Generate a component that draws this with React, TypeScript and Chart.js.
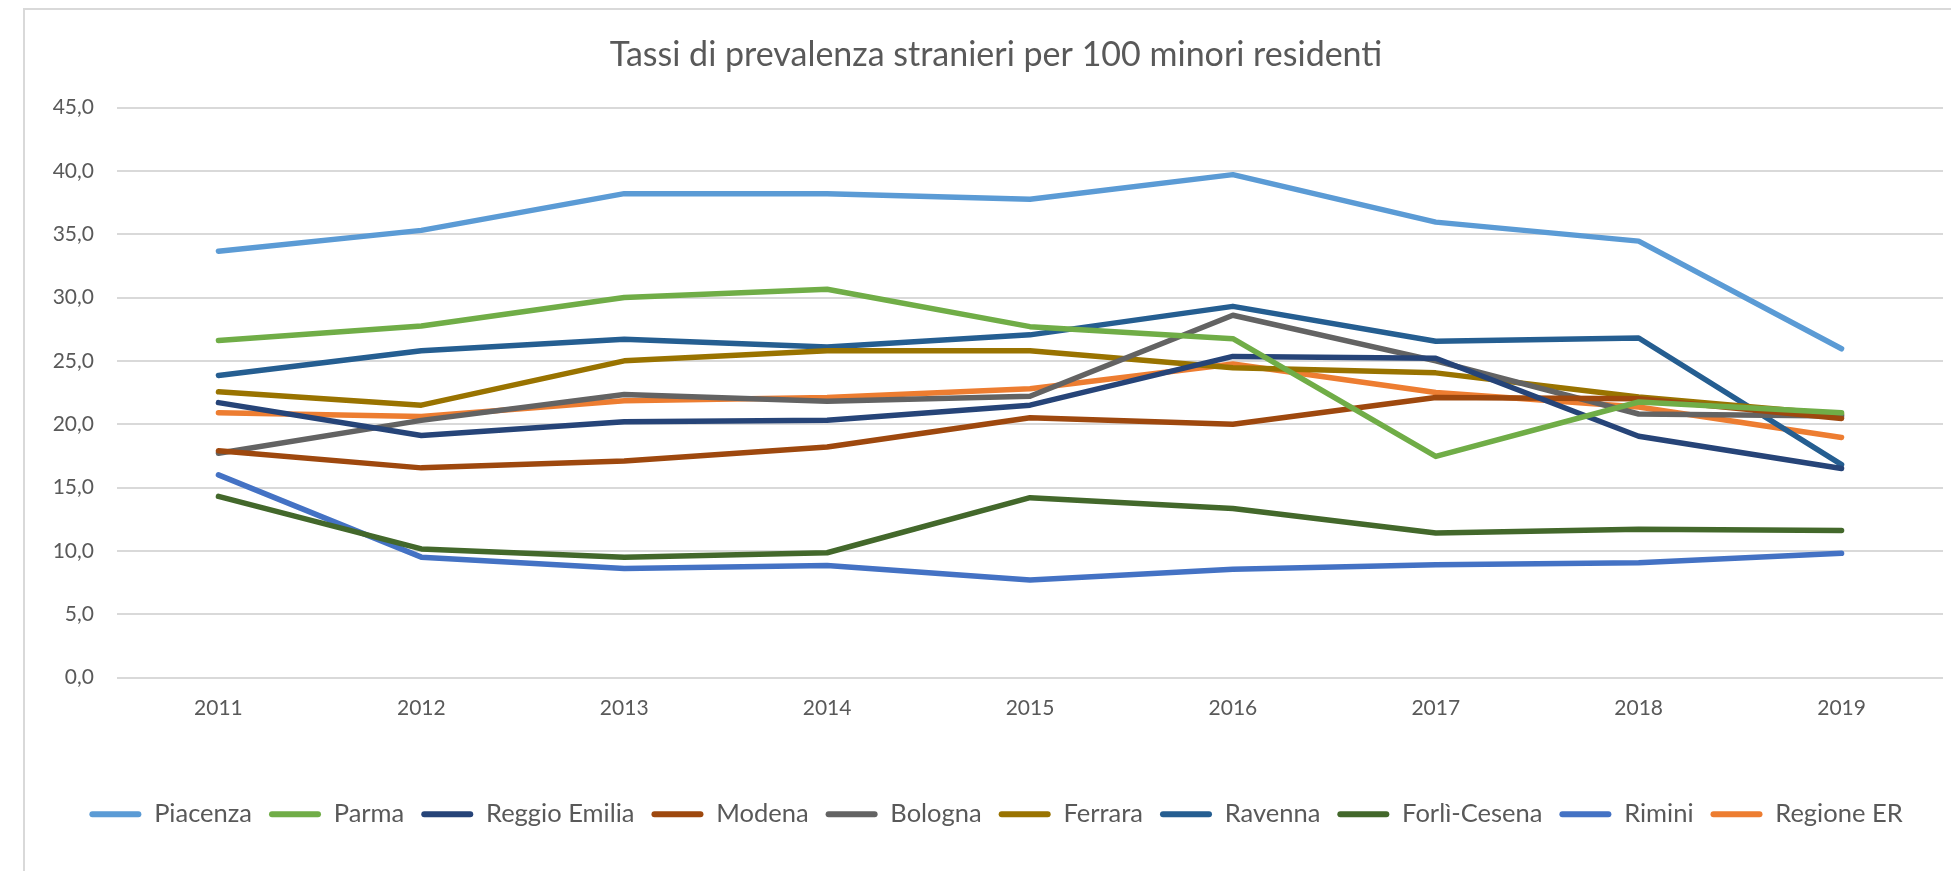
import React, { useEffect, useRef } from "react";
import { Chart, registerables } from "chart.js";

Chart.register(...registerables);

const years = ["2011", "2012", "2013", "2014", "2015", "2016", "2017", "2018", "2019"];
const yTicks = [0, 5, 10, 15, 20, 25, 30, 35, 40, 45];

const piacenza = [33.65, 35.3, 38.2, 38.2, 37.75, 39.7, 35.95, 34.45, 25.95];
const parma = [26.6, 27.75, 30.0, 30.65, 27.7, 26.75, 17.45, 21.75, 20.9];
const reggioEmilia = [21.7, 19.1, 20.2, 20.3, 21.5, 25.35, 25.2, 19.05, 16.5];
const modena = [17.9, 16.55, 17.1, 18.2, 20.5, 20.0, 22.1, 22.0, 20.45];
const bologna = [17.7, 20.3, 22.35, 21.8, 22.2, 28.6, 25.0, 20.8, 20.65];
const ferrara = [22.55, 21.5, 25.0, 25.8, 25.8, 24.45, 24.05, 22.15, 20.75];
const ravenna = [23.85, 25.8, 26.7, 26.1, 27.05, 29.3, 26.55, 26.8, 16.8];
const forliCesena = [14.3, 10.15, 9.5, 9.85, 14.2, 13.35, 11.4, 11.7, 11.6];
const rimini = [16.0, 9.5, 8.6, 8.85, 7.7, 8.55, 8.9, 9.05, 9.8];
const regioneER = [20.9, 20.6, 21.85, 22.1, 22.8, 24.75, 22.5, 21.35, 18.95];

const seriesNames = ["Piacenza", "Parma", "Reggio Emilia", "Modena", "Bologna", "Ferrara", "Ravenna", "Forlì-Cesena", "Rimini", "Regione ER"];
const seriesValues = [piacenza, parma, reggioEmilia, modena, bologna, ferrara, ravenna, forliCesena, rimini, regioneER];
const seriesColors = ["#5B9BD5", "#70AD47", "#264478", "#9E480E", "#636363", "#997300", "#255E91", "#43682B", "#4472C4", "#ED7D31"];

const TEXT = "#595959";
const FONT = "Lato";

export default function App() {
  const ref = useRef<HTMLCanvasElement>(null);

  useEffect(() => {
    document.body.style.overflow = "hidden";
    const chart = new Chart(ref.current as HTMLCanvasElement, {
      type: "line",
      data: {
        labels: years,
        datasets: seriesNames.map((name, i) => ({
          label: name,
          data: seriesValues[i],
          borderColor: seriesColors[i],
          backgroundColor: seriesColors[i],
          borderWidth: 5.5,
          pointRadius: 0,
          tension: 0,
          borderCapStyle: "round",
          borderJoinStyle: "round",
          fill: false,
        })),
      },
      options: {
        animation: false,
        responsive: false,
        devicePixelRatio: 1,
        layout: { padding: { left: 24, right: 8, top: 0, bottom: 34 } },
        plugins: {
          title: {
            display: true,
            text: "Tassi di prevalenza stranieri per 100 minori residenti",
            color: TEXT,
            font: { family: FONT, size: 34, weight: "normal", lineHeight: 1.2 },
            padding: { top: 24.6, bottom: 32.1 },
          },
          legend: {
            position: "bottom",
            labels: {
              boxWidth: 52,
              boxHeight: 6,
              useBorderRadius: true,
              borderRadius: 3,
              padding: 17,
              color: TEXT,
              font: { family: FONT, size: 25.5 },
              generateLabels: (c: any) =>
                c.data.datasets.map((ds: any, i: number) => ({
                  text: ds.label,
                  fillStyle: ds.borderColor,
                  strokeStyle: ds.borderColor,
                  lineWidth: 0,
                  hidden: false,
                  datasetIndex: i,
                  fontColor: TEXT,
                  borderRadius: 3,
                })),
            },
          },
          tooltip: { enabled: false },
        },
        scales: {
          x: {
            offset: true,
            grid: { display: false, drawTicks: false, offset: true },
            border: { display: false },
            ticks: {
              color: TEXT,
              font: { family: FONT, size: 21 },
              padding: 18,
              maxRotation: 0,
              autoSkip: false,
            },
            afterFit: (s: any) => {
              s.height = 107;
            },
          },
          y: {
            min: 0,
            max: 45,
            afterBuildTicks: (s: any) => {
              s.ticks = yTicks.map((v) => ({ value: v }));
            },
            ticks: {
              color: TEXT,
              font: { family: FONT, size: 21 },
              padding: 23,
              callback: (v: any) => Number(v).toFixed(1).replace(".", ","),
            },
            grid: { color: "#D9D9D9", lineWidth: 2, drawTicks: false },
            border: { display: false },
            afterFit: (s: any) => {
              s.width = 68;
            },
          },
        },
      },
    } as any);
    return () => chart.destroy();
  }, []);

  return (
    <div
      style={{
        marginLeft: 15,
        width: 1926,
        height: 861,
        borderLeft: "2px solid #D9D9D9",
        borderTop: "2px solid #D9D9D9",
        background: "#fff",
      }}
    >
      <canvas ref={ref} width={1926} height={861} style={{ display: "block", width: 1926, height: 861 }} />
    </div>
  );
}
